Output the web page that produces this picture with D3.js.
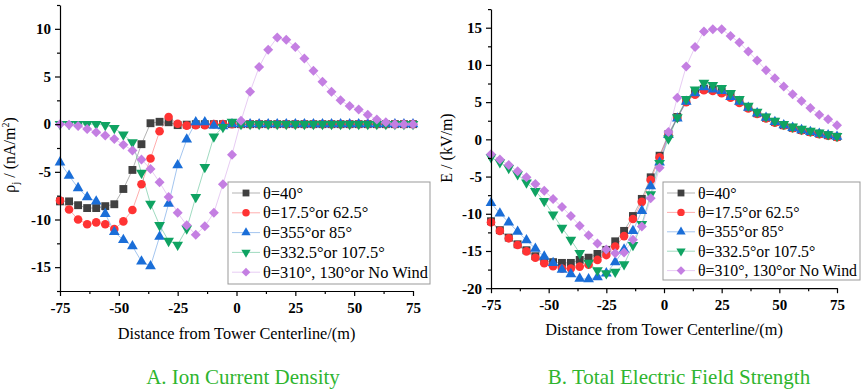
<!DOCTYPE html>
<html>
<head>
<meta charset="utf-8">
<script src="https://cdn.jsdelivr.net/npm/d3@7"></script>
<style>
  body { margin: 0; background: #fff; }
  text { font-family: "Liberation Serif", "Times New Roman", serif; }
</style>
</head>
<body>
<script>
// distance from tower centerline (m), 40 sample points
var distance = [-75, -71.15, -67.31, -63.46, -59.62, -55.77, -51.92, -48.08, -44.23, -40.38,
                -36.54, -32.69, -28.85, -25, -21.15, -17.31, -13.46, -9.62, -5.77, -1.92,
                1.92, 5.77, 9.62, 13.46, 17.31, 21.15, 25, 28.85, 32.69, 36.54,
                40.38, 44.23, 48.08, 51.92, 55.77, 59.62, 63.46, 67.31, 71.15, 75];

var seriesNames = ["θ=40°", "θ=17.5°or 62.5°", "θ=355°or 85°", "θ=332.5°or 107.5°", "θ=310°, 130°or No Wind"];

// A. ion current density (nA/m2)
var ion40   = [-8.1, -8.1, -8.5, -8.8, -8.8, -8.6, -8.4, -6.8, -4.8, -2.1, 0.1, 0.25, 0.2, -0.1, -0.05, 0, 0, 0, 0, 0,
               0, 0, 0, 0, 0, 0, 0, 0, 0, 0, 0, 0, 0, 0, 0, 0, 0, 0, 0, 0];
var ion17   = [-8.0, -8.95, -10.0, -10.5, -10.3, -10.5, -11.0, -10.2, -9.0, -6.3, -3.6, -0.75, 0.75, 0.05, -0.15, -0.1, -0.1, 0, 0, 0,
               0, 0, 0, 0, 0, 0, 0, 0, 0, 0, 0, 0, 0, 0, 0, 0, 0, 0, 0, 0];
var ion355  = [-4.0, -5.4, -6.7, -7.65, -8.1, -9.4, -11.3, -12.15, -12.8, -14.4, -14.9, -11.8, -8.35, -4.3, -1.6, 0.2, 0.2, -0.15, -0.2, 0,
               0, 0, 0, 0, 0, 0, 0, 0, 0, 0, 0, 0, 0, 0, 0, 0, 0, 0, 0, 0];
var ion332  = [0, 0, 0, 0, 0, -0.1, -0.4, -1.1, -1.9, -5.1, -8.35, -10.6, -12.25, -12.65, -10.95, -7.65, -4.5, -1.3, -0.3, 0.25,
               0, 0, 0, 0, 0, 0, 0, 0, 0, 0, 0, 0, 0, 0, 0, 0, 0, 0, 0, 0];
var ion310  = [0, -0.05, -0.2, -0.5, -0.85, -1.2, -1.55, -2.15, -2.75, -3.7, -4.7, -6.1, -7.65, -9.3, -10.6, -11.6, -10.7, -9.3, -6.3, -3.2,
               0.35, 3.4, 6.0, 7.8, 9.1, 8.85, 8.1, 6.9, 5.6, 4.45, 3.4, 2.5, 1.9, 1.55, 1.0, 0.5, 0.2, 0, 0, 0];

// B. total electric field strength (kV/m)
var field40  = [-11.0, -12.2, -13.2, -14.1, -14.9, -15.7, -16.3, -16.5, -16.6, -16.6, -16.2, -15.9, -15.4, -14.85, -13.7, -12.3, -10.3, -8.0, -5.1, -2.2,
                0.7, 3.0, 5.2, 6.2, 6.8, 6.7, 6.4, 5.8, 5.1, 4.3, 3.5, 2.9, 2.35, 1.9, 1.55, 1.25, 1.0, 0.75, 0.55, 0.35];
var field17  = [-11.15, -12.3, -13.3, -14.2, -15.05, -15.9, -16.65, -17.05, -17.35, -17.35, -17.1, -16.85, -16.2, -15.55, -14.4, -13.0, -10.7, -8.4, -5.45, -2.4,
                0.5, 2.9, 5.0, 6.0, 6.6, 6.5, 6.2, 5.6, 4.9, 4.15, 3.4, 2.8, 2.25, 1.85, 1.5, 1.2, 0.95, 0.7, 0.5, 0.3];
var field355 = [-8.55, -9.95, -11.15, -12.4, -13.55, -14.7, -15.75, -16.6, -17.5, -18.1, -18.7, -18.8, -18.5, -18.0, -16.5, -14.8, -12.3, -9.6, -6.3, -3.1,
                0.6, 2.8, 5.05, 6.2, 7.0, 6.7, 6.5, 5.7, 5.05, 4.25, 3.5, 2.9, 2.35, 1.9, 1.55, 1.25, 1.0, 0.75, 0.55, 0.35];
var field332 = [-2.4, -3.1, -3.85, -4.7, -5.8, -6.95, -8.3, -10.1, -11.9, -13.5, -15.3, -16.6, -17.6, -18.0, -17.8, -16.8, -14.2, -11.4, -7.4, -3.2,
                0.1, 2.95, 5.4, 6.7, 7.6, 7.3, 6.9, 6.2, 5.4, 4.5, 3.7, 3.05, 2.5, 2.05, 1.7, 1.4, 1.15, 0.9, 0.67, 0.45];
var field310 = [-2.0, -2.7, -3.45, -4.3, -5.1, -6.0, -6.9, -8.0, -9.1, -10.3, -11.6, -12.9, -14.0, -14.8, -15.3, -15.2, -13.5, -11.7, -7.9, -3.8,
                1.0, 5.6, 9.8, 12.4, 14.5, 14.8, 14.8, 13.9, 13.0, 11.8, 10.6, 9.3, 8.2, 7.1, 6.05, 5.15, 4.2, 3.3, 2.7, 1.9];

var xTicks = [-75, -50, -25, 0, 25, 50, 75];
var ionTicks = [-15, -10, -5, 0, 5, 10];
var fieldTicks = [-20, -15, -10, -5, 0, 5, 10, 15];

// marker styles (in series order)
var colors = ["#404040", "#ff3333", "#1a6ed8", "#0fa362", "#c47fe2"];
var symbols = [
  {type: d3.symbolSquare, size: 62, rot: 0},
  {type: d3.symbolCircle, size: 58, rot: 0},
  {type: d3.symbolTriangle, size: 50, rot: 0},
  {type: d3.symbolTriangle, size: 50, rot: 180},
  {type: d3.symbolSquare, size: 50, rot: 45}
];

var svg = d3.select("body").append("svg")
    .attr("width", 865)
    .attr("height", 389);

var panels = [
  {
    x0: 60, x1: 413, y0: 291, y1: 5, yDomain: [-17.5, 12.5], yTicks: ionTicks,
    data: [ion40, ion17, ion355, ion332, ion310],
    legend: {x: 228, y: 182, w: 202, h: 102, row: 19.8, size: 16.4},
    xTitleY: 338.5, caption: "A. Ion Current Density", captionX: 243,
    yTitleX: 15, yTitleY: 155, yTitle: "ion"
  },
  {
    x0: 491, x1: 837, y0: 288.2, y1: 9.1, yDomain: [-20, 17.5], yTicks: fieldTicks,
    data: [field40, field17, field355, field332, field310],
    legend: {x: 663, y: 182, w: 197, h: 98, row: 19.4, size: 15.8},
    xTitleY: 335, caption: "B. Total Electric Field Strength", captionX: 679,
    yTitleX: 452, yTitleY: 148, yTitle: "field"
  }
];

function minorBetween(ticks, step) {
  var out = [];
  for (var i = 0; i < ticks.length - 1; i++) out.push(ticks[i] + step);
  return out;
}

panels.forEach(function(p) {
  var x = d3.scaleLinear().domain([-75, 75]).range([p.x0, p.x1]);
  var y = d3.scaleLinear().domain(p.yDomain).range([p.y0, p.y1]);
  var g = svg.append("g");

  // series lines and markers
  p.data.forEach(function(vals, s) {
    var pts = distance.map(function(d, i) { return [d, vals[i]]; });
    g.append("path")
      .datum(pts)
      .attr("fill", "none")
      .attr("stroke", colors[s])
      .attr("stroke-opacity", 0.4)
      .attr("stroke-width", 1)
      .attr("d", d3.line().x(function(d) { return x(d[0]); }).y(function(d) { return y(d[1]); }));
  });
  p.data.forEach(function(vals, s) {
    var sym = d3.symbol().type(symbols[s].type).size(symbols[s].size);
    g.selectAll(".m" + s)
      .data(distance.map(function(d, i) { return [d, vals[i]]; }))
      .enter().append("path")
      .attr("d", sym)
      .attr("fill", colors[s])
      .attr("transform", function(d) {
        return "translate(" + x(d[0]) + "," + y(d[1]) + ") rotate(" + symbols[s].rot + ")";
      });
  });

  // axes
  var fmt = function(d) { return String(d); };
  g.append("g").attr("transform", "translate(0," + p.y0 + ")")
    .call(d3.axisBottom(x).tickValues(xTicks).tickSize(5).tickSizeOuter(0).tickPadding(6).tickFormat(fmt));
  g.append("g").attr("transform", "translate(0," + p.y0 + ")")
    .call(d3.axisBottom(x).tickValues(minorBetween(xTicks, 12.5)).tickSize(3).tickFormat(""))
    .select(".domain").remove();
  var yMinor = minorBetween(p.yTicks, 2.5);
  yMinor.unshift(p.yTicks[0] - 2.5);
  yMinor.push(p.yTicks[p.yTicks.length - 1] + 2.5);
  g.append("g").attr("transform", "translate(" + p.x0 + ",0)")
    .call(d3.axisLeft(y).tickValues(p.yTicks).tickSize(5).tickSizeOuter(0).tickPadding(4).tickFormat(fmt));
  g.append("g").attr("transform", "translate(" + p.x0 + ",0)")
    .call(d3.axisLeft(y).tickValues(yMinor).tickSize(3).tickFormat(""))
    .select(".domain").remove();

  g.selectAll(".tick text")
    .attr("font-size", 15)
    .attr("font-weight", "bold")
    .attr("fill", "#000");
  g.selectAll(".domain, .tick line").attr("stroke", "#000").attr("stroke-width", 1.2);

  // axis titles
  g.append("text")
    .attr("x", (p.x0 + p.x1) / 2)
    .attr("y", p.xTitleY)
    .attr("text-anchor", "middle")
    .attr("font-size", 16.3)
    .text("Distance from Tower Centerline/(m)");

  var yt = g.append("text")
    .attr("transform", "translate(" + p.yTitleX + "," + p.yTitleY + ") rotate(-90)")
    .attr("text-anchor", "middle")
    .attr("font-size", 16);
  if (p.yTitle === "ion") {
    yt.append("tspan").text("ρ");
    yt.append("tspan").attr("font-size", 11).attr("dy", 4).text("j");
    yt.append("tspan").attr("dy", -4).text(" / (nA/m");
    yt.append("tspan").attr("font-size", 10).attr("dy", -6).text("2");
    yt.append("tspan").attr("dy", 6).text(")");
  } else {
    yt.text("E / (kV/m)");
  }

  // caption
  g.append("text")
    .attr("x", p.captionX)
    .attr("y", 384)
    .attr("text-anchor", "middle")
    .attr("font-size", 21)
    .attr("fill", "#2fb52f")
    .text(p.caption);

  // legend
  var L = p.legend;
  var lg = g.append("g").attr("transform", "translate(" + L.x + "," + L.y + ")");
  lg.append("rect")
    .attr("width", L.w).attr("height", L.h)
    .attr("fill", "#fff").attr("stroke", "#999").attr("stroke-width", 1);
  seriesNames.forEach(function(name, s) {
    var cy = 11 + s * L.row;
    lg.append("line")
      .attr("x1", 4).attr("x2", 32).attr("y1", cy).attr("y2", cy)
      .attr("stroke", colors[s]).attr("stroke-opacity", 0.4);
    lg.append("path")
      .attr("d", d3.symbol().type(symbols[s].type).size(symbols[s].size * 0.75))
      .attr("fill", colors[s])
      .attr("transform", "translate(18," + cy + ") rotate(" + symbols[s].rot + ")");
    lg.append("text")
      .attr("x", 35).attr("y", cy + 5.5)
      .attr("font-size", L.size)
      .text(name);
  });
});
</script>
</body>
</html>
